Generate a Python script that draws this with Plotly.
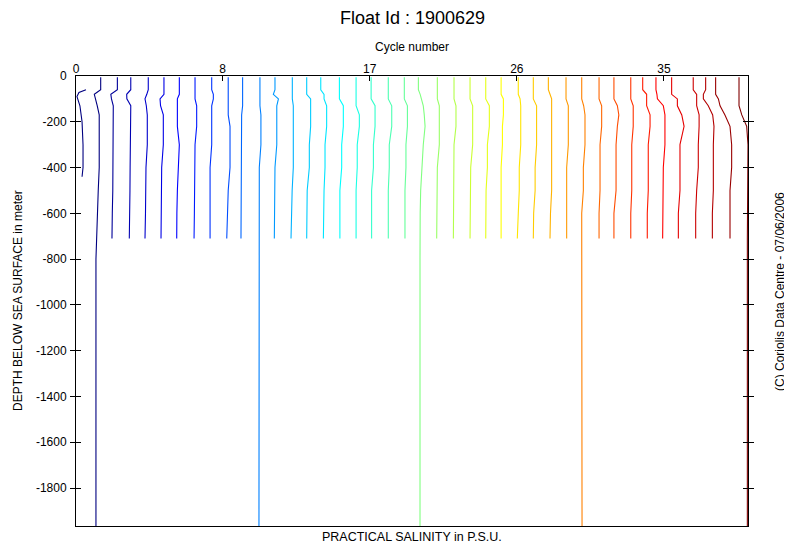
import plotly.graph_objects as go

# ---------------- data ----------------
CYCLES = list(range(41))
DEPTH_LEVELS = [5, 60, 80, 100, 130, 170, 220, 300, 400, 500, 600, 710]

SALINITY = [
    [35.055, 35.055, 35.016, 35.024, 35.034, 35.046, 35.046, 35.046, 35.046, 35.040, 35.035, 35.031],  # 0
    [35.057, 35.057, 35.017, 35.021, 35.032, 35.032, 35.032, 35.032, 35.032, 35.029, 35.026, 35.024],  # 1
    [35.039, 35.039, 35.014, 35.015, 35.039, 35.039, 35.039, 35.039, 35.035, 35.034, 35.032, 35.030],  # 2
    [35.046, 35.046, 35.037, 35.026, 35.034, 35.040, 35.040, 35.040, 35.032, 35.032, 35.029, 35.026],  # 3
    [35.042, 35.042, 35.042, 35.018, 35.021, 35.038, 35.038, 35.038, 35.028, 35.028, 35.026, 35.024],  # 4
    [35.036, 35.036, 35.036, 35.024, 35.024, 35.024, 35.024, 35.036, 35.028, 35.024, 35.021, 35.020],  # 5
    [35.032, 35.032, 35.032, 35.032, 35.042, 35.042, 35.042, 35.032, 35.032, 35.032, 35.028, 35.026],  # 6
    [35.034, 35.034, 35.044, 35.044, 35.034, 35.034, 35.034, 35.034, 35.024, 35.024, 35.024, 35.024],  # 7
    [35.035, 35.035, 35.035, 35.035, 35.035, 35.035, 35.046, 35.046, 35.046, 35.035, 35.031, 35.026],  # 8
    [35.023, 35.023, 35.023, 35.023, 35.023, 35.017, 35.017, 35.017, 35.017, 35.017, 35.015, 35.013],  # 9
    [35.029, 35.029, 35.029, 35.029, 35.029, 35.035, 35.035, 35.035, 35.025, 35.025, 35.024, 35.023],  # 10
    [35.021, 35.021, 35.011, 35.042, 35.032, 35.032, 35.032, 35.032, 35.021, 35.021, 35.018, 35.017],  # 11
    [35.027, 35.027, 35.027, 35.027, 35.033, 35.033, 35.033, 35.033, 35.033, 35.026, 35.022, 35.019],  # 12
    [35.015, 35.015, 35.015, 35.039, 35.039, 35.039, 35.039, 35.031, 35.031, 35.018, 35.017, 35.015],  # 13
    [35.001, 35.001, 35.021, 35.021, 35.037, 35.037, 35.037, 35.027, 35.027, 35.021, 35.018, 35.017],  # 14
    [35.015, 35.015, 35.015, 35.015, 35.039, 35.039, 35.039, 35.029, 35.029, 35.018, 35.018, 35.018],  # 15
    [35.017, 35.017, 35.017, 35.017, 35.017, 35.037, 35.037, 35.024, 35.024, 35.017, 35.017, 35.017],  # 16
    [35.009, 35.009, 35.009, 35.009, 35.033, 35.033, 35.033, 35.023, 35.023, 35.012, 35.012, 35.012],  # 17
    [35.014, 35.014, 35.014, 35.014, 35.035, 35.035, 35.035, 35.020, 35.020, 35.014, 35.014, 35.014],  # 18
    [35.012, 35.012, 35.012, 35.012, 35.031, 35.031, 35.031, 35.022, 35.022, 35.016, 35.016, 35.016],  # 19
    [34.998, 34.998, 35.009, 35.018, 35.028, 35.034, 35.039, 35.028, 35.018, 35.012, 35.009, 35.008],  # 20
    [35.014, 35.014, 35.014, 35.014, 35.026, 35.026, 35.026, 35.026, 35.014, 35.014, 35.011, 35.010],  # 21
    [35.016, 35.016, 35.016, 35.016, 35.028, 35.028, 35.028, 35.016, 35.016, 35.016, 35.013, 35.012],  # 22
    [35.014, 35.014, 35.014, 35.014, 35.030, 35.030, 35.030, 35.030, 35.018, 35.018, 35.015, 35.014],  # 23
    [35.010, 35.010, 35.010, 35.010, 35.032, 35.032, 35.032, 35.020, 35.020, 35.012, 35.010, 35.010],  # 24
    [35.004, 35.004, 35.004, 35.018, 35.018, 35.018, 35.012, 35.012, 35.004, 35.004, 35.004, 35.004],  # 25
    [35.009, 35.009, 35.009, 35.020, 35.024, 35.024, 35.024, 35.024, 35.015, 35.015, 35.009, 35.003],  # 26
    [35.001, 35.001, 35.001, 35.001, 35.021, 35.021, 35.021, 35.021, 35.012, 35.012, 35.003, 35.001],  # 27
    [34.993, 34.993, 35.003, 35.013, 35.013, 35.013, 35.013, 35.013, 35.013, 35.013, 35.006, 35.003],  # 28
    [35.001, 35.001, 35.001, 35.001, 35.015, 35.015, 35.015, 35.015, 35.005, 35.005, 35.005, 35.005],  # 29
    [34.997, 34.997, 34.997, 34.997, 35.009, 35.017, 35.017, 35.017, 35.007, 35.007, 34.997, 34.997],  # 30
    [35.003, 35.003, 35.003, 35.003, 35.019, 35.019, 35.019, 35.009, 35.009, 35.009, 35.003, 35.003],  # 31
    [34.994, 34.994, 34.994, 34.994, 35.015, 35.024, 35.015, 35.007, 35.007, 35.007, 34.994, 34.994],  # 32
    [34.997, 34.997, 34.997, 34.997, 35.012, 35.012, 35.012, 35.003, 35.003, 35.003, 34.997, 34.997],  # 33
    [34.970, 34.970, 34.994, 34.994, 34.994, 35.015, 35.015, 35.004, 35.004, 35.004, 34.998, 34.998],  # 34
    [34.951, 34.951, 34.957, 34.960, 34.996, 35.006, 35.006, 35.006, 34.996, 34.996, 34.994, 34.992],  # 35
    [34.947, 34.947, 34.947, 34.982, 34.982, 35.009, 35.023, 34.998, 34.998, 34.998, 34.988, 34.988],  # 36
    [34.979, 34.979, 35.000, 35.000, 35.000, 35.015, 35.015, 35.010, 35.010, 35.000, 34.994, 34.994],  # 37
    [34.955, 34.955, 34.941, 34.941, 34.971, 34.998, 35.006, 35.002, 35.002, 35.002, 34.996, 34.996],  # 38
    [34.916, 34.916, 34.916, 34.933, 34.943, 34.973, 35.004, 35.014, 35.014, 35.004, 35.004, 35.004],  # 39
    [34.959, 34.959, 34.959, 34.959, 34.959, 34.976, 35.006, 35.014, 35.012, 35.011, 35.010, 35.010],  # 40
]

DEEP_CYCLES = [0, 10, 20, 30, 40]
DEEP_DEPTHS = [800, 1966]
DEEP_SALINITY = [35.026, 35.023, 35.008, 34.999, 35.010]

EXTRA_DEPTHS = [60, 72, 90, 130, 200, 300, 400, 440]
EXTRA_SALINITY = [34.965, 34.922, 34.910, 34.928, 34.941, 34.947, 34.947, 34.941]

S_REF = 35.0          # reference salinity of cycle 0
OFFSET = 0.1          # PSU shift between successive cycles
CYCLE_TICKS = [0, 8, 17, 26, 35]
DEPTH_TICKS = [0, -200, -400, -600, -800, -1000, -1200, -1400, -1600, -1800]
X_MIN, X_MAX = 34.904, 39.014
Y_MIN, Y_MAX = -1966, 0

FONT = "Liberation Sans Narrow, Liberation Sans, Arial, sans-serif"


def jet(t):
    def c(v):
        return max(0.0, min(1.0, v))
    r = c(1.5 - abs(4 * t - 3))
    g = c(1.5 - abs(4 * t - 2))
    b = c(1.5 - abs(4 * t - 1))
    return "rgb(%d,%d,%d)" % (round(r * 255), round(g * 255), round(b * 255))


fig = go.Figure()

# extra short profile at the start (drawn against the top axis, same scale)
fig.add_trace(go.Scatter(
    x=[s + OFFSET * 0 for s in EXTRA_SALINITY], y=[-d for d in EXTRA_DEPTHS],
    xaxis="x2", mode="lines", line=dict(color=jet(0), width=1.1),
    showlegend=False, hoverinfo="skip"))

n = len(CYCLES)
for k, sal in zip(CYCLES, SALINITY):
    xs = [s + OFFSET * k for s in sal]
    ys = [-d for d in DEPTH_LEVELS]
    if k in DEEP_CYCLES:
        sd = DEEP_SALINITY[DEEP_CYCLES.index(k)]
        xs += [sd + OFFSET * k for _ in DEEP_DEPTHS]
        ys += [-d for d in DEEP_DEPTHS]
    fig.add_trace(go.Scatter(
        x=xs, y=ys, mode="lines",
        line=dict(color=jet(k / (n - 1)), width=1.1),
        showlegend=False, hoverinfo="skip"))

tickvals_top = [X_MIN] + [S_REF + OFFSET * k for k in CYCLE_TICKS[1:]]

# the page body has an 8px margin: the figure is sized to fit the 792x546 window
fig.update_layout(
    width=784, height=538,
    margin=dict(l=68, r=44, t=68, b=20, autoexpand=False),
    paper_bgcolor="white", plot_bgcolor="white",
    font=dict(family=FONT, size=12, color="black"),
    xaxis=dict(range=[X_MIN, X_MAX], showgrid=False, zeroline=False,
               showline=True, linecolor="black", linewidth=1, mirror=True,
               ticks="", showticklabels=False),
    xaxis2=dict(range=[X_MIN, X_MAX], overlaying="x", side="top", anchor="y",
                showgrid=False, zeroline=False, showline=False,
                tickmode="array", tickvals=tickvals_top,
                ticktext=[str(c) for c in CYCLE_TICKS],
                ticks="inside", ticklen=5, tickcolor="black", tickwidth=1,
                tickfont=dict(size=12, family=FONT)),
    yaxis=dict(range=[Y_MIN, Y_MAX], showgrid=False, zeroline=False,
               showline=True, linecolor="black", linewidth=1, mirror="allticks",
               tickmode="array", tickvals=DEPTH_TICKS,
               ticktext=[str(v) for v in DEPTH_TICKS],
               ticks="inside", ticklen=5, tickcolor="black", tickwidth=1,
               ticklabelstandoff=6,
               tickfont=dict(size=12, family=FONT)),
)

fig.add_annotation(text="Float Id : 1900629", xref="paper", yref="paper",
                   x=0.5, y=1.0, yshift=58, yanchor="middle",
                   showarrow=False, font=dict(size=18, family=FONT))
fig.add_annotation(text="Cycle number", xref="paper", yref="paper",
                   x=0.5, y=1.0, yshift=29, yanchor="middle",
                   showarrow=False, font=dict(size=12, family=FONT))
fig.add_annotation(text="PRACTICAL SALINITY in P.S.U.", xref="paper", yref="paper",
                   x=0.5, y=0.0, yshift=-11, yanchor="middle",
                   showarrow=False, font=dict(size=12.5, family=FONT))
fig.add_annotation(text="DEPTH BELOW SEA SURFACE in meter", xref="paper", yref="paper",
                   x=0.0, xshift=-58, y=0.5, textangle=-90, xanchor="center",
                   showarrow=False, font=dict(size=12, family=FONT))
fig.add_annotation(text="(C) Coriolis Data Centre - 07/06/2006", xref="paper", yref="paper",
                   x=1.0, xshift=32, y=0.52, textangle=-90, xanchor="center",
                   showarrow=False, font=dict(size=12, family=FONT))

fig.write_html("out.html")
